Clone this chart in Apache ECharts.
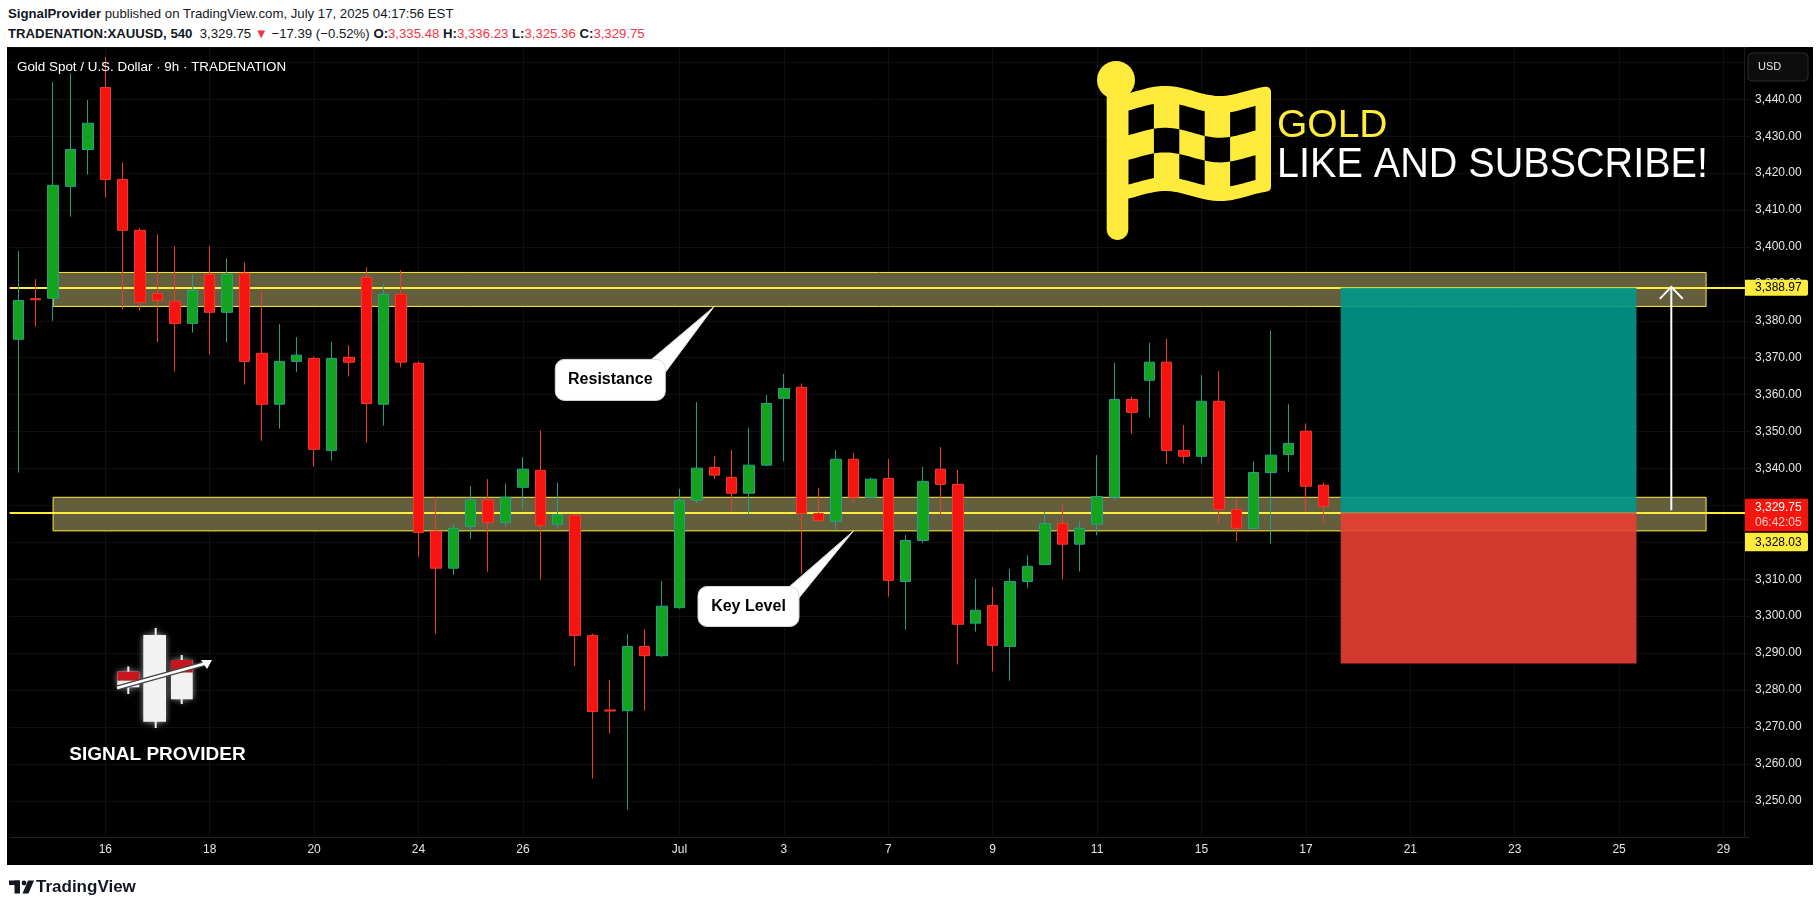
<!DOCTYPE html>
<html><head><meta charset="utf-8">
<script src="https://cdn.jsdelivr.net/npm/echarts@6/dist/echarts.min.js"></script>
<style>
html,body{margin:0;padding:0;background:#fff;width:1820px;height:908px;overflow:hidden;font-family:"Liberation Sans",Arial,sans-serif;}
#bg{position:absolute;left:7px;top:47px;width:1806px;height:818px;background:#000;}
#c{position:absolute;left:0;top:0;width:1820px;height:908px;}
.hl{position:absolute;left:8px;font-size:13.2px;color:#131722;white-space:nowrap;line-height:18px;}
.r{color:#f23645;}
</style></head><body>
<div class="hl" style="top:5px"><b>SignalProvider</b> published on TradingView.com, July 17, 2025 04:17:56 EST</div>
<div class="hl" style="top:25px"><b>TRADENATION:XAUUSD, 540</b>&nbsp; 3,329.75 <span class="r">▼</span> −17.39 (−0.52%) <b>O:</b><span class="r">3,335.48</span> <b>H:</b><span class="r">3,336.23</span> <b>L:</b><span class="r">3,325.36</span> <b>C:</b><span class="r">3,329.75</span></div>
<div id="bg"></div>
<div id="c"></div>
<script>
// ---- data ----
const opens = [3375.0,3386.0,3386.1,3416.4,3426.4,3443.2,3418.3,3404.5,3387.4,3385.3,
3379.3,3392.6,3382.3,3392.9,3371.2,3357.4,3369.0,3369.8,3344.9,3370.1,
3391.8,3357.4,3387.2,3368.5,3323.0,3313.0,3324.3,3331.5,3325.4,3334.9,
3339.5,3324.9,3327.3,3294.8,3274.6,3274.4,3291.8,3289.3,3302.3,3331.4,
3340.3,3337.6,3333.3,3340.9,3359.0,3362.0,3327.8,3325.7,3342.5,3332.2,
3337.3,3309.4,3320.5,3339.8,3335.7,3298.1,3302.9,3291.8,3309.4,3314.0,
3325.1,3319.5,3324.9,3332.2,3358.7,3363.9,3368.8,3344.9,3343.3,3358.2,
3328.9,3323.8,3338.9,3343.8,3350.1,3335.48];
const closes = [3385.5,3385.7,3416.7,3426.4,3433.5,3418.3,3404.5,3385.0,3385.5,3379.3,
3388.3,3382.3,3392.6,3369.0,3357.4,3369.0,3370.7,3345.2,3369.8,3368.8,
3357.6,3387.2,3368.8,3322.7,3313.0,3323.8,3331.5,3325.4,3332.2,3339.8,
3324.6,3327.5,3294.8,3274.2,3274.3,3291.8,3289.3,3302.7,3331.4,3340.1,
3338.2,3333.3,3340.9,3357.6,3361.7,3327.8,3325.9,3342.5,3332.2,3337.1,
3309.7,3320.5,3336.5,3335.7,3297.8,3301.6,3292.1,3309.4,3313.5,3325.1,
3319.5,3323.8,3332.4,3358.7,3355.2,3368.8,3344.9,3343.3,3358.2,3328.9,
3323.8,3338.9,3343.6,3346.8,3335.2,3329.75];
const lows = [3338.9,3378.4,3380.0,3408.2,3419.6,3413.4,3383.1,3382.8,3374.2,3366.2,
3376.8,3370.9,3374.2,3362.7,3347.5,3350.8,3366.1,3340.5,3342.1,3364.9,
3347.0,3351.6,3367.4,3316.1,3295.3,3311.2,3321.0,3312.0,3324.2,3329.0,
3309.9,3323.7,3286.5,3256.0,3268.2,3247.6,3274.4,3289.0,3302.0,3330.7,
3337.1,3328.5,3327.5,3340.6,3341.9,3311.5,3325.3,3323.4,3330.7,3332.0,
3305.3,3296.3,3319.9,3327.3,3286.9,3295.8,3285.0,3282.5,3307.7,3313.8,
3310.0,3312.1,3321.9,3331.4,3349.4,3353.8,3341.3,3341.3,3341.3,3325.3,
3320.3,3323.6,3319.6,3339.1,3328.4,3325.36];
const highs = [3398.9,3391.3,3444.7,3447.0,3439.8,3451.5,3422.9,3405.1,3403.4,3400.2,
3392.6,3400.2,3396.9,3395.8,3388.0,3379.1,3375.6,3370.4,3374.4,3373.4,
3394.5,3389.9,3393.7,3369.0,3332.3,3325.0,3335.2,3337.1,3335.9,3343.0,
3350.3,3336.2,3327.5,3295.3,3282.7,3295.2,3296.5,3309.5,3334.5,3358.0,
3343.4,3345.0,3351.0,3359.9,3365.6,3363.0,3334.8,3345.0,3344.2,3337.6,
3342.6,3322.0,3340.4,3345.8,3339.6,3310.1,3307.9,3312.8,3316.5,3328.3,
3330.0,3325.8,3343.6,3368.6,3359.5,3374.0,3375.1,3351.8,3365.3,3366.4,
3331.9,3341.9,3377.4,3357.4,3352.2,3336.23];
const totalBars = 100;                       // 76 candles + empty future bars
const xTickLabels = ['16','18','20','24','26','Jul','3','7','9','11','15','17','21','23','25','29'];
const xTickBars   = [5,11,17,23,29,38,44,50,56,62,68,74,80,86,92,98];
const yMin = 3240, yMax = 3454, yStep = 10;
const resistanceBand = [3383.9, 3393.1];
const resistanceLevel = 3388.97;
const keyBand = [3323.1, 3332.2];
const keyLevel = 3328.03;
const bandBars = [2, 97];
const lastPrice = 3329.75;
const countdown = '06:42:05';
const posBars = [76, 93];
const posTarget = 3388.97, posEntry = 3328.03, posStop = 3287.2;
const arrowBar = 95, arrowFrom = 3328.7, arrowTo = 3389.2;
const resistanceCalloutBar = 40, keyCalloutBar = 48;

// ---- build ----
const categories = Array.from({length: totalBars}, (_, i) => 'b' + i);
const tickLabelOf = {};
xTickBars.forEach((b, k) => tickLabelOf[b] = xTickLabels[k]);
const candleData = opens.map((o, i) => [o, closes[i], lows[i], highs[i]]);
const fmt = v => v.toLocaleString('en-US', {minimumFractionDigits: 2, maximumFractionDigits: 2});

const chart = echarts.init(document.getElementById('c'), null, {renderer: 'canvas'});
const option = {
  backgroundColor: 'transparent',
  animation: false,
  grid: {left: 9.6, right: 70.4, top: 47.6, bottom: 70.3, containLabel: false},
  xAxis: {
    type: 'category', data: categories, boundaryGap: true,
    axisLine: {show: true, lineStyle: {color: '#1e1e1e'}},
    axisTick: {show: false},
    splitLine: {show: false},
    axisLabel: {
      interval: (i) => tickLabelOf[i] !== undefined,
      formatter: (v, i) => tickLabelOf[i] || '',
      color: '#e6e6e6', fontSize: 12, margin: 6,
      fontFamily: 'Liberation Sans, Arial'
    }
  },
  yAxis: {
    type: 'value', position: 'right', min: yMin, max: yMax, interval: yStep, offset: -5.6,
    axisLine: {show: true, lineStyle: {color: '#1e1e1e'}},
    axisTick: {show: false},
    splitLine: {show: true, lineStyle: {color: '#0f0f0f', width: 1}},
    axisLabel: {showMinLabel: false, showMaxLabel: false, color: '#e6e6e6', fontSize: 12, margin: 11,
      fontFamily: 'Liberation Sans, Arial', formatter: fmt}
  },
  series: [
    { // vertical grid (behind everything)
      type: 'line', data: [], z: 0, silent: true,
      markLine: {
        silent: true, z: 0, symbol: ['none', 'none'], label: {show: false},
        lineStyle: {color: '#0f0f0f', width: 1, type: 'solid'},
        data: xTickBars.map(b => ({xAxis: b}))
      }
    },
    { // zones and levels (behind candles)
      type: 'line', data: [], z: 1, silent: true,
      markArea: {
        silent: true, z: 1,
        itemStyle: {color: '#635f3c', borderColor: '#ffeb3b', borderWidth: 1},
        data: [
          [{xAxis: bandBars[0], yAxis: resistanceBand[1]}, {xAxis: bandBars[1], yAxis: resistanceBand[0]}],
          [{xAxis: bandBars[0], yAxis: keyBand[1]}, {xAxis: bandBars[1], yAxis: keyBand[0]}]
        ]
      },
      markLine: {
        silent: true, z: 1, symbol: ['none', 'none'], label: {show: false},
        data: [
          {yAxis: resistanceLevel, lineStyle: {color: '#ffeb3b', width: 2, type: 'solid'}},
          {yAxis: keyLevel, lineStyle: {color: '#ffeb3b', width: 2, type: 'solid'}}
        ]
      }
    },
    { // long position tool
      type: 'line', data: [], z: 2, silent: true,
      markArea: {
        silent: true, z: 2,
        data: [
          [{xAxis: posBars[0], yAxis: posTarget, itemStyle: {color: 'rgba(0,152,137,0.9)'}}, {xAxis: posBars[1], yAxis: posEntry}],
          [{xAxis: posBars[0], yAxis: posEntry, itemStyle: {color: 'rgba(233,63,51,0.9)'}}, {xAxis: posBars[1], yAxis: posStop}]
        ]
      }
    },
    {
      type: 'candlestick', z: 3, data: candleData, barWidth: 11,
      itemStyle: {color: '#13a31f', color0: '#f5140f', borderColor: '#22a08e', borderColor0: '#f23a2c', borderWidth: 1}
    }
  ]
};
chart.setOption(option);

function P(i, v) { return chart.convertToPixel({gridIndex: 0}, [i, v]); }
const g = [];
const Z = 50;
function txt(x, y, s, style, extra) {
  g.push(Object.assign({type: 'text', x, y, z: Z, style: Object.assign({text: s, fontFamily: 'Liberation Sans, Arial', verticalAlign: 'middle'}, style)}, extra || {}));
}
// chart title
txt(17, 67.5, 'Gold Spot / U.S. Dollar · 9h · TRADENATION', {fill: '#ffffff', fontSize: 13.4});
// USD box
g.push({type: 'rect', z: Z, shape: {x: 1748, y: 53, width: 60, height: 28, r: 4}, style: {fill: '#0c0c0c', stroke: '#2a2a2a', lineWidth: 1}});
txt(1758, 67, 'USD', {fill: '#e6e6e6', fontSize: 11});

// axis price tags
const yR = P(0, resistanceLevel)[1];
g.push({type: 'rect', z: Z, shape: {x: 1745, y: yR - 8, width: 63, height: 16, r: [0, 2, 2, 0]}, style: {fill: '#ffeb3b'}});
txt(1755, yR, fmt(resistanceLevel), {fill: '#000', fontSize: 12});
const yL = P(0, lastPrice)[1];
g.push({type: 'rect', z: Z, shape: {x: 1745, y: yL - 7.5, width: 63, height: 32.5}, style: {fill: '#f5150f'}});
txt(1755, yL + 1, fmt(lastPrice), {fill: '#fff', fontSize: 12});
txt(1755, yL + 16, countdown, {fill: '#ffc9c2', fontSize: 12});
g.push({type: 'rect', z: Z, shape: {x: 1745, y: yL + 26.5, width: 63, height: 18.5, r: [0, 2, 2, 0]}, style: {fill: '#ffeb3b'}});
txt(1755, yL + 36, fmt(keyLevel), {fill: '#000', fontSize: 12});

// arrow
const a0 = P(arrowBar, arrowFrom), a1 = P(arrowBar, arrowTo);
g.push({type: 'line', z: Z, shape: {x1: a0[0], y1: a0[1], x2: a1[0], y2: a1[1]}, style: {stroke: '#ffffff', lineWidth: 2}});
g.push({type: 'polyline', z: Z, shape: {points: [[a1[0] - 11.5, a1[1] + 12], [a1[0], a1[1]], [a1[0] + 11.5, a1[1] + 12]]}, style: {stroke: '#ffffff', lineWidth: 2, fill: null}});

// callouts
function callout(tip, bx, by, bw, bh, t1, t2, label) {
  g.push({type: 'polygon', z: Z, shape: {points: [tip, [tip[0] + t1[0], tip[1] + t1[1]], [tip[0] + t2[0], tip[1] + t2[1]]]}, style: {fill: '#ffffff', stroke: '#d8d8d8', lineWidth: 1}});
  g.push({type: 'rect', z: Z, shape: {x: tip[0] + bx, y: tip[1] + by, width: bw, height: bh, r: 9}, style: {fill: '#ffffff', stroke: '#d8d8d8', lineWidth: 1}});
  g.push({type: 'polygon', z: Z + 1, shape: {points: [[tip[0] + t1[0] + 2, tip[1] + t1[1] + 3], [tip[0] + t2[0] - 3, tip[1] + t2[1] - 2], [tip[0] + t1[0] + 8, tip[1] + t2[1] + 4], [tip[0] + t1[0] - 4, tip[1] + t2[1] + 4]]}, style: {fill: '#ffffff'}});
  g.push({type: 'text', z: Z + 2, x: tip[0] + bx + bw / 2, y: tip[1] + by + bh / 2, style: {text: label, fill: '#000', fontSize: 16, fontWeight: 'bold', fontFamily: 'Liberation Sans, Arial', align: 'center', verticalAlign: 'middle'}});
}
const tipR = P(resistanceCalloutBar, resistanceBand[0]);
callout(tipR, -159, 53, 110, 41, [-64, 54], [-49, 66], 'Resistance');
const tipK = P(keyCalloutBar, keyBand[0]);
callout(tipK, -155.5, 55.6, 101, 40, [-65, 56.5], [-54.5, 67], 'Key Level');

// flag logo
const Y = '#ffeb3b';
const wave = x => -5 * Math.cos(2 * Math.PI * (x - 1165) / 110);
function wl(xa, xb, base, n) { const p = []; for (let k = 0; k <= n; k++) { const x = xa + (xb - xa) * k / n; p.push([x, base + wave(x)]); } return p; }
g.push({type: 'circle', z: Z, shape: {cx: 1116, cy: 80, r: 19}, style: {fill: Y}});
g.push({type: 'rect', z: Z, shape: {x: 1106.7, y: 80, width: 21.6, height: 160, r: [0, 0, 10.8, 10.8]}, style: {fill: Y}});
const outer = wl(1124, 1266, 96, 30).concat(wl(1124, 1266, 191, 30).reverse());
g.push({type: 'polygon', z: Z, shape: {points: outer}, style: {fill: Y, stroke: Y, lineWidth: 10, lineJoin: 'round'}});
const cw = 25.4, ch = 24.7;
for (let r = 0; r < 3; r++) for (let c = 0; c < 5; c++) {
  if ((r + c) % 2) continue;
  const xa = 1128.5 + c * cw, xb = xa + cw, yt = 108 + r * ch;
  g.push({type: 'polygon', z: Z + 1, shape: {points: wl(xa, xb, yt, 8).concat(wl(xa, xb, yt + ch, 8).reverse())}, style: {fill: '#000'}});
}
txt(1277, 126, 'GOLD', {fill: Y, fontSize: 39});
txt(1277, 165, 'LIKE AND SUBSCRIBE!', {fill: '#ffffff', fontSize: 43}, {scaleX: 0.92, originX: 0, originY: 0});

// signal provider logo
const glow = {shadowBlur: 6, shadowColor: 'rgba(255,255,255,0.55)'};
const W = '#f2f2f2', RD = '#c8161e';
g.push({type: 'rect', z: Z, shape: {x: 154.7, y: 628, width: 2, height: 100}, style: Object.assign({fill: W}, glow)});
g.push({type: 'rect', z: Z, shape: {x: 143.3, y: 635, width: 22.7, height: 86.7}, style: Object.assign({fill: W}, glow)});
g.push({type: 'rect', z: Z, shape: {x: 180.7, y: 655, width: 2, height: 49}, style: Object.assign({fill: W}, glow)});
g.push({type: 'rect', z: Z, shape: {x: 171, y: 660, width: 21.7, height: 39.3}, style: Object.assign({fill: W}, glow)});
g.push({type: 'rect', z: Z + 1, shape: {x: 171, y: 660, width: 21.7, height: 12.5}, style: {fill: RD}});
g.push({type: 'rect', z: Z, shape: {x: 127.3, y: 666.5, width: 2, height: 27.5}, style: Object.assign({fill: W}, glow)});
g.push({type: 'rect', z: Z, shape: {x: 117.3, y: 671.7, width: 22, height: 15.6}, style: Object.assign({fill: W}, glow)});
g.push({type: 'rect', z: Z + 1, shape: {x: 117.3, y: 671.7, width: 22, height: 9}, style: {fill: RD}});
g.push({type: 'bezierCurve', z: Z + 2, shape: {x1: 117, y1: 688, x2: 207, y2: 663, cpx1: 160, cpy1: 676}, style: {stroke: '#444', lineWidth: 5, fill: null}});
g.push({type: 'bezierCurve', z: Z + 3, shape: {x1: 117, y1: 688, x2: 207, y2: 663, cpx1: 160, cpy1: 676}, style: {stroke: '#ffffff', lineWidth: 2.5, fill: null}});
g.push({type: 'polygon', z: Z + 3, shape: {points: [[212, 660], [201, 660], [207, 669]]}, style: {fill: '#ffffff'}});
txt(157.5, 754.5, 'SIGNAL PROVIDER', Object.assign({fill: '#ffffff', fontSize: 19, fontWeight: 'bold', align: 'center'}, glow));

// TradingView footer
g.push({type: 'rect', z: Z, shape: {x: 9, y: 880.5, width: 11, height: 4.5}, style: {fill: '#131722'}});
g.push({type: 'rect', z: Z, shape: {x: 14.5, y: 880.5, width: 5.5, height: 13}, style: {fill: '#131722'}});
g.push({type: 'circle', z: Z, shape: {cx: 24, cy: 883, r: 2.4}, style: {fill: '#131722'}});
g.push({type: 'polygon', z: Z, shape: {points: [[28, 880.5], [34, 880.5], [28.5, 893.5], [22.5, 893.5]]}, style: {fill: '#131722'}});
txt(36, 887.5, 'TradingView', {fill: '#131722', fontSize: 17, fontWeight: 'bold'});

chart.setOption({graphic: {elements: g}});
</script></body></html>
